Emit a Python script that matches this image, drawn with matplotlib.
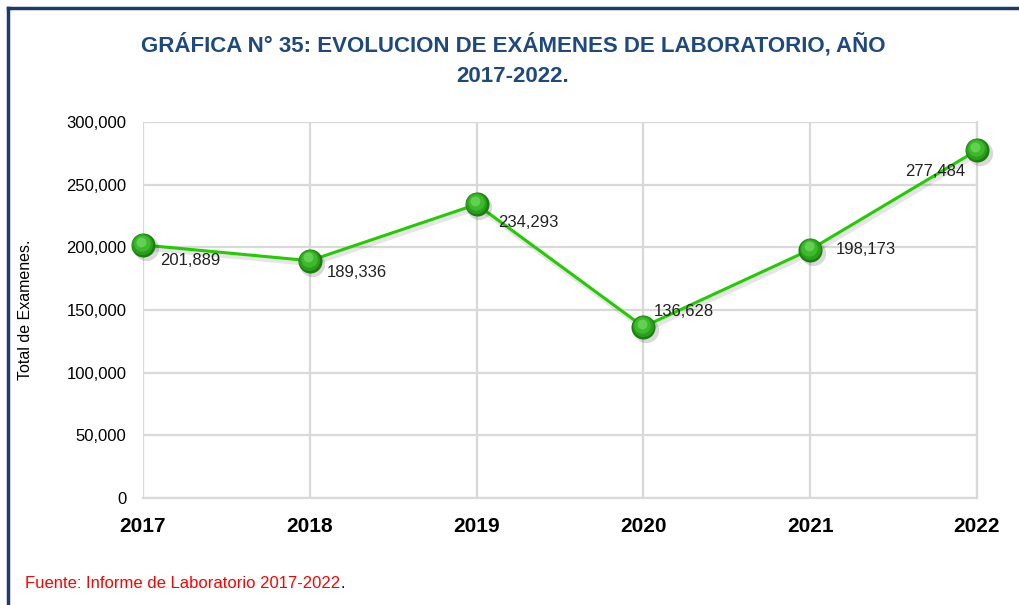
import matplotlib
matplotlib.use("Agg")
import matplotlib.pyplot as plt
from matplotlib.lines import Line2D
from matplotlib.ticker import FuncFormatter
from matplotlib import font_manager

years = ["2017", "2018", "2019", "2020", "2021", "2022"]
exams = [201889, 189336, 234293, 136628, 198173, 277484]
yticks = [0, 50000, 100000, 150000, 200000, 250000, 300000]

names = {f.name for f in font_manager.fontManager.ttflist}
narrow = "Liberation Sans Narrow" if "Liberation Sans Narrow" in names else "Liberation Sans"
plt.rcParams["font.family"] = [narrow, "DejaVu Sans"]

fig = plt.figure(figsize=(10.19, 6.05), dpi=100)
ax = fig.add_axes([143 / 1019, 1 - 498 / 605, (977 - 143) / 1019, (498 - 122) / 605])

x = list(range(len(years)))

# frame lines around the figure
fig.add_artist(Line2D([8 / 1019, 8 / 1019], [0, 1 - 8 / 605], transform=fig.transFigure,
                      color="#1F3A6E", lw=2.5))
fig.add_artist(Line2D([8 / 1019, 1], [1 - 8 / 605, 1 - 8 / 605], transform=fig.transFigure,
                      color="#1F3A6E", lw=2.5))

# line with soft shadow
ax.plot([v + 0.012 for v in x], [e - 2500 for e in exams], color="#000000", alpha=0.10, lw=3.5,
        zorder=2, clip_on=False)
ax.plot(x, exams, color="#22CC00", lw=2.2, zorder=3, clip_on=False)

# spherical markers
ax.scatter([v + 0.015 for v in x], [e - 2500 for e in exams], s=330, color="#000000", alpha=0.15,
           zorder=4, clip_on=False, linewidths=0)
ax.scatter(x, exams, s=300, color="#1A7F10", zorder=5, clip_on=False, linewidths=0)
ax.scatter([v - 0.003 for v in x], [e + 700 for e in exams], s=230, color="#2A9F1C", zorder=6,
           clip_on=False, linewidths=0)
ax.scatter([v - 0.006 for v in x], [e + 1500 for e in exams], s=140, color="#3DBA2C", zorder=7,
           clip_on=False, linewidths=0)
ax.scatter([v - 0.009 for v in x], [e + 2600 for e in exams], s=50, color="#6FD65E", alpha=0.8,
           zorder=8, clip_on=False, linewidths=0)

# value labels (offsets in pixels from each point)
offsets = [(17, -16), (17, -12), (22, -18), (10, 15), (26, 0), (-72, -21)]
for xi, yi, (dx, dy) in zip(x, exams, offsets):
    ax.annotate(f"{yi:,}", (xi, yi), xytext=(dx, dy), textcoords="offset pixels",
                fontsize=12, color="#222222", va="center", ha="left", zorder=9)

ax.set_xlim(0, len(years) - 1)
ax.set_ylim(0, 300000)
ax.set_yticks(yticks)
ax.yaxis.set_major_formatter(FuncFormatter(lambda v, p: f"{int(v):,}"))
ax.set_xticks(x)
ax.set_xticklabels(years, fontsize=15, fontweight="bold")
ax.tick_params(axis="y", length=0, pad=12, labelsize=12)
ax.tick_params(axis="x", length=0, pad=14)
ax.grid(True, color="#D9D9D9", lw=1.6)
ax.set_axisbelow(True)
for s in ["top", "left"]:
    ax.spines[s].set_visible(False)
for s in ["right", "bottom"]:
    ax.spines[s].set_color("#D9D9D9")
    ax.spines[s].set_linewidth(1.6)

fig.text(26 / 1019, 1 - 310 / 605, "Total de Examenes.", rotation=90, fontsize=11.5,
         ha="center", va="center")

fig.text(513 / 1019, 1 - 45 / 605, "GRÁFICA N° 35: EVOLUCION DE EXÁMENES DE LABORATORIO, AÑO",
         fontsize=16, fontweight="bold", color="#1F497D", ha="center", va="center")
fig.text(513 / 1019, 1 - 76 / 605, "2017-2022.",
         fontsize=16, fontweight="bold", color="#1F497D", ha="center", va="center")

src = fig.text(25 / 1019, 1 - 584 / 605, "Fuente: Informe de Laboratorio 2017-2022", fontsize=12,
               color="#FF0000", ha="left", va="center")
fig.canvas.draw()
bb = src.get_window_extent()
fig.text(bb.x1 / fig.bbox.width, 1 - 584 / 605, ".", fontsize=12, color="black",
         ha="left", va="center")

fig.savefig("out.png", dpi=100)
